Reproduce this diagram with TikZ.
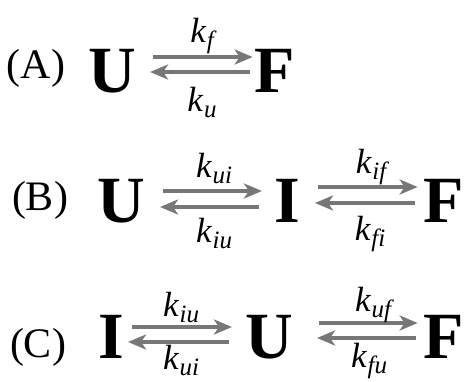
\documentclass[tikz,border=0pt]{standalone}
\usepackage{fontspec}
\setmainfont{Liberation Serif}
\usetikzlibrary{arrows.meta}
\definecolor{rategray}{HTML}{777777}
% rate constant k with a subscript
\newcommand{\rk}[1]{\textit{k}\kern0.5pt\raisebox{-6pt}{\fontsize{25}{25}\selectfont\itshape #1}}

\begin{document}
\begin{tikzpicture}[x=1pt, y=-1pt,
    species/.style={inner sep=0pt, anchor=base, font=\fontsize{66}{70}\selectfont\bfseries},
    panel/.style={inner sep=0pt, anchor=base, font=\fontsize{42}{46}\selectfont},
    rate/.style={inner sep=0pt, anchor=base, font=\fontsize{35}{38}\selectfont},
    conv/.style={draw=rategray, line width=4.3pt,
      -{Stealth[length=18pt, width=15pt, inset=5pt]}}]
  \useasboundingbox (0,0) rectangle (471,381);
  % (A) two-state
  \node[panel] (lA) at (36,78) {(A)};
  \node[species] (uA) at (112,92) {U};
  \node[species] (fA) at (275,92) {F};
  \draw[conv, shorten <=17pt, shorten >=2pt] ([yshift=35pt]uA.base east) -- ([yshift=35pt]fA.base west);
  \draw[conv, shorten <=5pt, shorten >=14pt] ([yshift=20pt]fA.base west) -- ([yshift=20pt]uA.base east);
  \node[rate] (kfA) at (202,42) {\rk{f}};
  \node[rate] (kuA) at (202,111) {\rk{u}};
  % (B) on-pathway intermediate
  \node[panel] (lB) at (40,210) {(B)};
  \node[species] (uB) at (121,222) {U};
  \node[species] (iB) at (287,222) {I};
  \node[species] (fB) at (444,222) {F};
  \draw[conv, shorten <=18pt, shorten >=12pt] ([yshift=31pt]uB.base east) -- ([yshift=31pt]iB.base west);
  \draw[conv, shorten <=15pt, shorten >=15pt] ([yshift=15pt]iB.base west) -- ([yshift=15pt]uB.base east);
  \draw[conv, shorten <=18pt, shorten >=6pt] ([yshift=35pt]iB.base east) -- ([yshift=35pt]fB.base west);
  \draw[conv, shorten <=9pt, shorten >=15pt] ([yshift=19pt]fB.base west) -- ([yshift=19pt]iB.base east);
  \node[rate] (kuiB) at (214,177) {\rk{ui}};
  \node[rate] (kiuB) at (214,242) {\rk{iu}};
  \node[rate] (kifB) at (371,173) {\rk{if}};
  \node[rate] (kfiB) at (370,240) {\rk{fi}};
  % (C) off-pathway intermediate
  \node[panel] (lC) at (38,357) {(C)};
  \node[species] (iC) at (111,358) {I};
  \node[species] (uC) at (269,358) {U};
  \node[species] (fC) at (444,358) {F};
  \draw[conv, shorten <=8pt, shorten >=13pt] ([yshift=31pt]iC.base east) -- ([yshift=31pt]uC.base west);
  \draw[conv, shorten <=16pt, shorten >=4pt] ([yshift=16pt]uC.base west) -- ([yshift=16pt]iC.base east);
  \draw[conv, shorten <=26pt, shorten >=6pt] ([yshift=35pt]uC.base east) -- ([yshift=35pt]fC.base west);
  \draw[conv, shorten <=8pt, shorten >=24pt] ([yshift=20pt]fC.base west) -- ([yshift=20pt]uC.base east);
  \node[rate] (kiuC) at (181,316) {\rk{iu}};
  \node[rate] (kuiC) at (181,369) {\rk{ui}};
  \node[rate] (kufC) at (373,311) {\rk{uf}};
  \node[rate] (kfuC) at (369,367) {\rk{fu}};
\end{tikzpicture}
\end{document}
